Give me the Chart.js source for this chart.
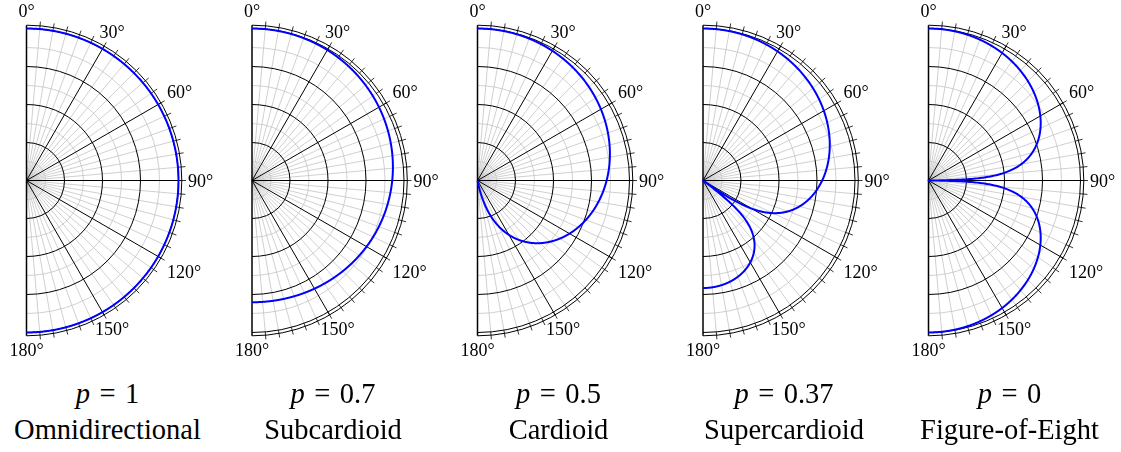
<!DOCTYPE html>
<html>
<head>
<meta charset="utf-8">
<script src="https://cdn.jsdelivr.net/npm/chart.js@4.4.1/dist/chart.umd.min.js"></script>
<style>
  html, body { margin: 0; padding: 0; background: #fff; }
  body { position: relative; width: 1121px; height: 452px; overflow: hidden;
         font-family: "Liberation Serif", "Times New Roman", serif; color: #000; }
  canvas { position: absolute; top: 0; }
  .cap { position: absolute; top: 376px; width: 220px; text-align: center;
         font-size: 28.5px; line-height: 36px; white-space: nowrap; }
  .cap i { font-style: italic; }
</style>
</head>
<body>
<script>
// Polar response patterns of first-order microphones, r(θ) = |p + (1 − p)·cos θ|,
// plotted on a decibel radius from −40 dB (centre) to 0 dB (rim).
const patternNames = ['Omnidirectional', 'Subcardioid', 'Cardioid', 'Supercardioid', 'Figure-of-Eight'];
const pValues      = [1, 0.7, 0.5, 0.37, 0];
const pLabels      = ['1', '0.7', '0.5', '0.37', '0'];
const angleTicks   = [0, 30, 60, 90, 120, 150, 180];
const majorRingsDb = [-30, -20, -10, 0];
const minorRingsDb = [-35, -25, -15, -5];
const dbFloor      = -40;
const angleStep    = 0.25;

const PANEL_PITCH = 225.5;
const AXIS_X0 = 26.5;
const CANVAS_W = 226, CANVAS_H = 370;
const RADIUS_PX = 152, CENTER_Y = 180.5;

function patternPoints(p) {
  const pts = [];
  for (let a = 0; a <= 180 + 1e-9; a += angleStep) {
    const t = a * Math.PI / 180;
    const level = Math.abs(p + (1 - p) * Math.cos(t));
    const db = level > 0 ? 20 * Math.log10(level) : -Infinity;
    const rho = Math.max(db - dbFloor, 0);
    pts.push({ x: rho * Math.sin(t), y: rho * Math.cos(t) });
  }
  return pts;
}

// Draws the half-polar grid, rim ticks and angle labels behind the curve
const polarGrid = {
  id: 'polarGrid',
  beforeDatasetsDraw(chart) {
    const ctx = chart.ctx;
    const xs = chart.scales.x, ys = chart.scales.y;
    const cx = xs.getPixelForValue(0), cy = ys.getPixelForValue(0);
    const R = xs.getPixelForValue(-dbFloor) - cx;
    const rOf = db => xs.getPixelForValue(db - dbFloor) - cx;
    const dir = a => { const t = a * Math.PI / 180; return [Math.sin(t), -Math.cos(t)]; };
    const rimOuter = R + 3.3;
    ctx.save();
    ctx.lineCap = 'butt';

    // fine radial lines every 5°
    ctx.strokeStyle = '#c4c4c4';
    ctx.lineWidth = 0.8;
    for (let a = 5; a < 180; a += 5) {
      if (a % 30 === 0) continue;
      const [dx, dy] = dir(a);
      ctx.beginPath(); ctx.moveTo(cx, cy); ctx.lineTo(cx + dx * R, cy + dy * R); ctx.stroke();
    }
    // fine rings halfway between the main rings
    for (const db of minorRingsDb) {
      ctx.beginPath(); ctx.arc(cx, cy, rOf(db), -Math.PI / 2, Math.PI / 2); ctx.stroke();
    }
    // main rings
    ctx.strokeStyle = '#000';
    ctx.lineWidth = 1;
    for (const db of majorRingsDb) {
      ctx.beginPath(); ctx.arc(cx, cy, rOf(db), -Math.PI / 2, Math.PI / 2); ctx.stroke();
    }
    ctx.beginPath(); ctx.arc(cx, cy, rimOuter, -Math.PI / 2, Math.PI / 2); ctx.stroke();
    // main radial lines every 30°
    for (let a = 30; a < 180; a += 30) {
      const [dx, dy] = dir(a);
      ctx.beginPath(); ctx.moveTo(cx, cy); ctx.lineTo(cx + dx * rimOuter, cy + dy * rimOuter); ctx.stroke();
    }
    // rim ticks every 5°
    ctx.lineWidth = 0.8;
    for (let a = 5; a < 180; a += 5) {
      const [dx, dy] = dir(a);
      ctx.beginPath();
      ctx.moveTo(cx + dx * R, cy + dy * R);
      ctx.lineTo(cx + dx * (R + 7.5), cy + dy * (R + 7.5));
      ctx.stroke();
    }
    // vertical 0°–180° axis
    ctx.lineWidth = 1.5;
    ctx.beginPath(); ctx.moveTo(cx, cy - rimOuter); ctx.lineTo(cx, cy + rimOuter); ctx.stroke();

    // angle labels: a padded box anchored on the rim along its own angle
    ctx.fillStyle = '#000';
    ctx.font = '18px "Liberation Serif", "Times New Roman", serif';
    ctx.textAlign = 'center';
    ctx.textBaseline = 'alphabetic';
    const pad = 4.5, halfH = 8, capH = 12.2, labelR = R + 5;
    for (const a of angleTicks) {
      const txt = a + '°';
      const w = ctx.measureText(txt).width;
      const [dx, dy] = dir(a);
      const bw = w / 2 + pad, bh = halfH + pad;
      const tx = Math.abs(dx) > 1e-6 ? bw / Math.abs(dx) : Infinity;
      const ty = Math.abs(dy) > 1e-6 ? bh / Math.abs(dy) : Infinity;
      const d = labelR + Math.min(tx, ty);
      ctx.fillText(txt, cx + dx * d, cy + dy * d + capH / 2);
    }
    ctx.restore();
  }
};

pValues.forEach((p, i) => {
  const axisX = AXIS_X0 + i * PANEL_PITCH;
  const left = Math.floor(axisX - 26.5);
  const padLeft = axisX - left;
  const canvas = document.createElement('canvas');
  canvas.width = CANVAS_W; canvas.height = CANVAS_H;
  canvas.style.left = left + 'px';
  canvas.style.width = CANVAS_W + 'px'; canvas.style.height = CANVAS_H + 'px';
  document.body.appendChild(canvas);

  new Chart(canvas, {
    type: 'scatter',
    data: {
      datasets: [{
        label: patternNames[i],
        data: patternPoints(p),
        showLine: true,
        borderColor: '#0000ff',
        borderWidth: 2,
        borderJoinStyle: 'round',
        pointRadius: 0,
        fill: false,
        tension: 0.001,
        capBezierPoints: false,
        clip: false
      }]
    },
    options: {
      responsive: false,
      animation: false,
      events: [],
      layout: {
        padding: {
          left: padLeft,
          right: CANVAS_W - padLeft - RADIUS_PX,
          top: CENTER_Y - RADIUS_PX,
          bottom: CANVAS_H - (CENTER_Y + RADIUS_PX)
        }
      },
      scales: {
        x: { type: 'linear', min: 0, max: -dbFloor, display: false },
        y: { type: 'linear', min: dbFloor, max: -dbFloor, display: false }
      },
      plugins: { legend: { display: false }, tooltip: { enabled: false }, title: { display: false } }
    },
    plugins: [polarGrid]
  });

  const cap = document.createElement('div');
  cap.className = 'cap';
  cap.style.left = (axisX + 81 - 110) + 'px';
  cap.innerHTML = '<i>p</i>\u2004=\u2004' + pLabels[i] + '<br>' + patternNames[i];
  document.body.appendChild(cap);
});
</script>
</body>
</html>
